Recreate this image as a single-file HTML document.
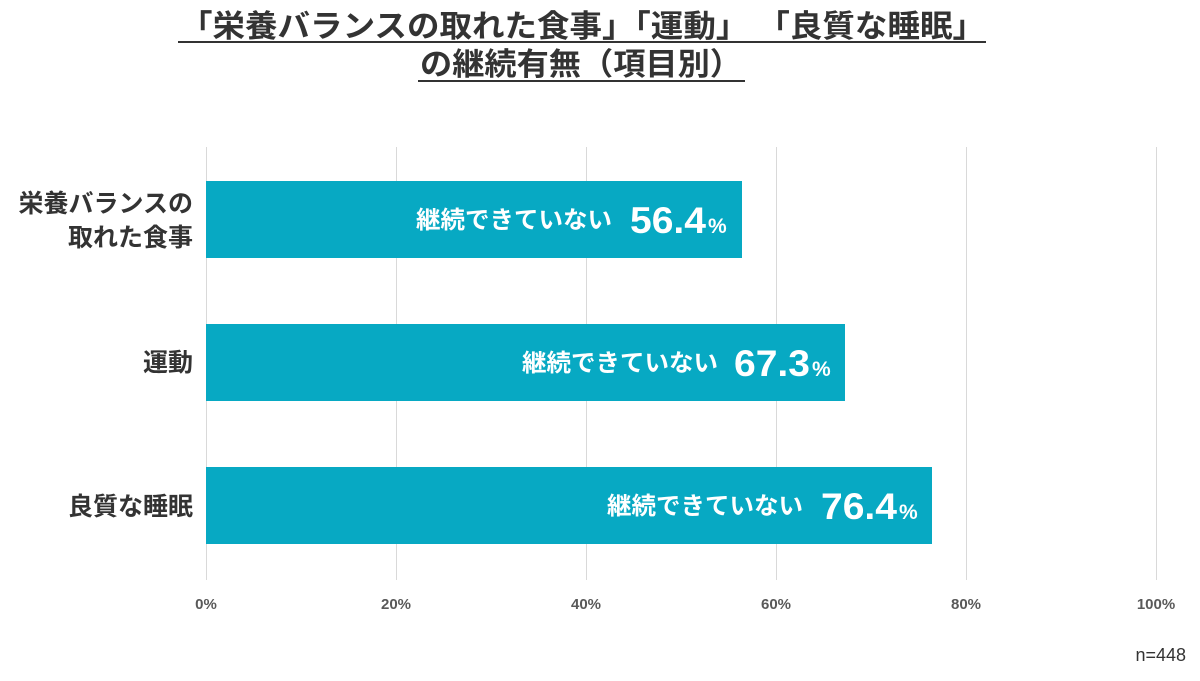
<!DOCTYPE html>
<html><head><meta charset="utf-8"><style>
body{margin:0;background:#fff;}
svg{display:block;font-family:"Liberation Sans","Noto Sans CJK JP",sans-serif;}
</style></head><body>
<svg width="1200" height="681" viewBox="0 0 1200 681">
<rect width="1200" height="681" fill="#fff"/>
<g fill="#333" font-size="31" font-weight="bold">
<text x="180" y="37" textLength="805" lengthAdjust="spacingAndGlyphs">「栄養バランスの取れた食事」「運動」 「良質な睡眠」</text>
<text x="420" y="75" textLength="322" lengthAdjust="spacingAndGlyphs">の継続有無（項目別）</text>
</g>
<rect x="178" y="41" width="808" height="2" fill="#333"/>
<rect x="418" y="80" width="327" height="2" fill="#333"/>
<g stroke="#d9d9d9" stroke-width="1">
<line x1="206.5" y1="147" x2="206.5" y2="580"/>
<line x1="396.5" y1="147" x2="396.5" y2="580"/>
<line x1="586.5" y1="147" x2="586.5" y2="580"/>
<line x1="776.5" y1="147" x2="776.5" y2="580"/>
<line x1="966.5" y1="147" x2="966.5" y2="580"/>
<line x1="1156.5" y1="147" x2="1156.5" y2="580"/>
</g>
<g fill="#07a9c3">
<rect x="206" y="181" width="536" height="77"/>
<rect x="206" y="324" width="639" height="77"/>
<rect x="206" y="467" width="726" height="77"/>
</g>
<g fill="#fff" font-weight="bold">
<text><tspan x="416" y="228" font-size="24" textLength="196" lengthAdjust="spacingAndGlyphs">継続できていない</tspan><tspan x="630" y="233" font-size="37" textLength="76" lengthAdjust="spacingAndGlyphs">56.4</tspan><tspan x="708" y="233" font-size="21">%</tspan></text>
<text><tspan x="522" y="371" font-size="24" textLength="196" lengthAdjust="spacingAndGlyphs">継続できていない</tspan><tspan x="734" y="376" font-size="37" textLength="76" lengthAdjust="spacingAndGlyphs">67.3</tspan><tspan x="812" y="376" font-size="21">%</tspan></text>
<text><tspan x="607" y="514" font-size="24" textLength="196" lengthAdjust="spacingAndGlyphs">継続できていない</tspan><tspan x="821" y="519" font-size="37" textLength="76" lengthAdjust="spacingAndGlyphs">76.4</tspan><tspan x="899" y="519" font-size="21">%</tspan></text>
</g>
<g fill="#333" font-size="25" font-weight="bold" text-anchor="end">
<text x="193" y="212">栄養バランスの</text>
<text x="193" y="246">取れた食事</text>
<text x="193" y="371">運動</text>
<text x="193" y="515">良質な睡眠</text>
</g>
<g fill="#595959" font-size="15" font-weight="bold" text-anchor="middle">
<text x="206" y="609">0%</text>
<text x="396" y="609">20%</text>
<text x="586" y="609">40%</text>
<text x="776" y="609">60%</text>
<text x="966" y="609">80%</text>
<text x="1156" y="609">100%</text>
</g>
<text x="1186" y="661" fill="#333" font-size="18" text-anchor="end">n=448</text>
</svg>
</body></html>
